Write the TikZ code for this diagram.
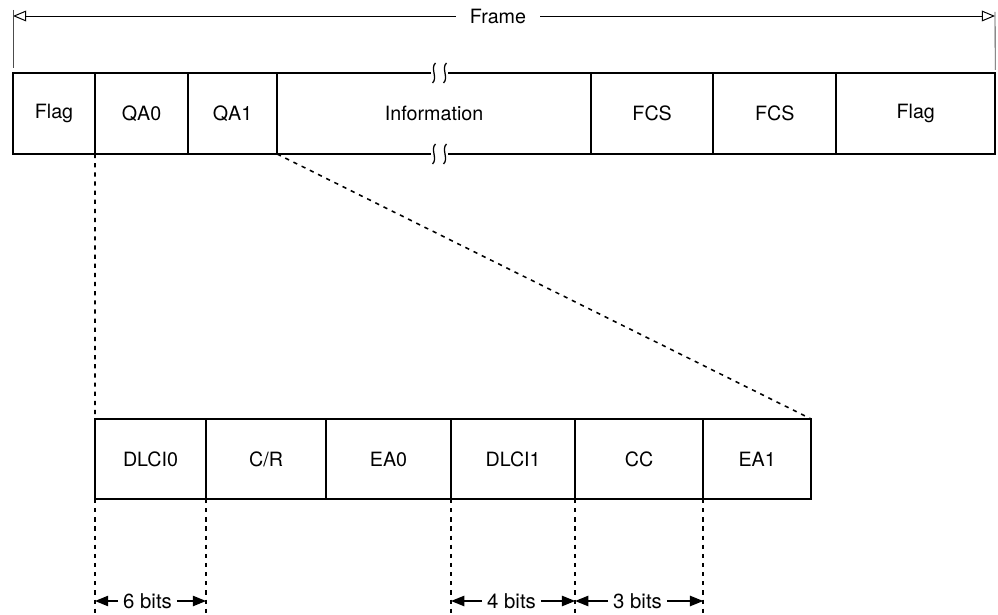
\documentclass[tikz,border=0pt]{standalone}
\usepackage{fontspec}
\setmainfont{TeX Gyre Heros}
\usetikzlibrary{positioning, arrows.meta, calc}

\tikzset{
  cell/.style={draw, line width=1.1pt, minimum height=2.025cm, inner sep=0pt,
               outer sep=0pt, font=\fontsize{14}{16}\selectfont},
  sub/.style={cell, minimum height=2cm},
  edge/.style={line width=1.1pt},
  guide/.style={line width=1.1pt, dash pattern=on 3pt off 3.5pt},
  tick/.style={line width=0.6pt, black!70},
  bits/.style={font=\fontsize{14.5}{16}\selectfont, inner xsep=0.12cm},
  span/.style={-{Triangle[length=0.33cm, width=0.26cm]}, line width=0.9pt},
  frm/.style={-{Triangle[open, length=0.33cm, width=0.27cm]}, line width=0.7pt}
}

\begin{document}
\begin{tikzpicture}[x=0.025cm, y=-0.025cm]
    \useasboundingbox (0,0) rectangle (998,615);

    % frame row
    \node[cell, minimum width=2.05cm, anchor=west] (flagl) at (13,113.5) {Flag};
    \node[cell, minimum width=2.325cm, right=0pt of flagl] (qa0) {QA0};
    \node[cell, minimum width=2.225cm, right=0pt of qa0] (qa1) {QA1};
    \node[cell, draw=none, minimum width=7.85cm, right=0pt of qa1] (info) {Information};
    \node[cell, minimum width=3.05cm, right=0pt of info] (fcsa) {FCS};
    \node[cell, minimum width=3.075cm, right=0pt of fcsa] (fcsb) {FCS};
    \node[cell, minimum width=3.975cm, right=0pt of fcsb] (flagr) {Flag};

    % broken edges of the information field
    \draw[edge] (info.north west) -- ++(154,0);
    \draw[edge] (info.north east) -- ++(-143,0);
    \draw[edge] (info.south west) -- ++(154,0);
    \draw[edge] (info.south east) -- ++(-143,0);
    \draw[line width=0.9pt] (435.5,63) .. controls (430,68) and (438,78) .. (432.5,83);
    \draw[line width=0.9pt] (446.5,63) .. controls (441,68) and (449,78) .. (443.5,83);
    \draw[line width=0.9pt] (435.5,144) .. controls (430,149) and (438,159) .. (432.5,164);
    \draw[line width=0.9pt] (446.5,144) .. controls (441,149) and (449,159) .. (443.5,164);

    % frame span
    \coordinate (fl) at (13,16);
    \coordinate (fr) at (995,16);
    \node[font=\fontsize{14}{16}\selectfont, inner xsep=0.35cm] (frame) at (498,16) {Frame};
    \draw[frm] (frame.west) -- (fl);
    \draw[frm] (frame.east) -- (fr);
    \draw[tick] ($(fl)+(0,-6)$) -- ($(flagl.north west)+(0,-5)$);
    \draw[tick] ($(fr)+(0,-4)$) -- ($(flagr.north east)+(0,-3)$);

    % address field
    \node[sub, minimum width=2.775cm, anchor=west] (dlci0) at (95,459) {DLCI0};
    \node[sub, minimum width=3cm, right=0pt of dlci0] (cr) {C/R};
    \node[sub, minimum width=3.125cm, right=0pt of cr] (ea0) {EA0};
    \node[sub, minimum width=3.1cm, right=0pt of ea0] (dlci1) {DLCI1};
    \node[sub, minimum width=3.2cm, right=0pt of dlci1] (cc) {CC};
    \node[sub, minimum width=2.7cm, right=0pt of cc] (ea1) {EA1};

    % zoom guides
    \coordinate (base) at (0,613);
    \draw[guide] (qa0.south west) -- (dlci0.north west);
    \draw[guide] (qa1.south east) -- (ea1.north east);
    \draw[guide] (dlci0.south west) -- (dlci0.south west |- base);
    \draw[guide] (cr.south west) -- (cr.south west |- base);
    \draw[guide] (dlci1.south west) -- (dlci1.south west |- base);
    \draw[guide] (cc.south west) -- (cc.south west |- base);
    \draw[guide] (ea1.south west) -- (ea1.south west |- base);

    % bit widths
    \node[bits] (b6) at (147.5,601) {6 bits};
    \node[bits] (b4) at (511.5,601) {4 bits};
    \node[bits] (b3) at (637.5,601) {3 bits};
    \draw[span] (b6.west) -- (b6.west -| dlci0.south west);
    \draw[span] (b6.east) -- (b6.east -| cr.south west);
    \draw[span] (b4.west) -- (b4.west -| dlci1.south west);
    \draw[span] (b4.east) -- (b4.east -| cc.south west);
    \draw[span] (b3.west) -- (b3.west -| cc.south west);
    \draw[span] (b3.east) -- (b3.east -| ea1.south west);
\end{tikzpicture}
\end{document}
